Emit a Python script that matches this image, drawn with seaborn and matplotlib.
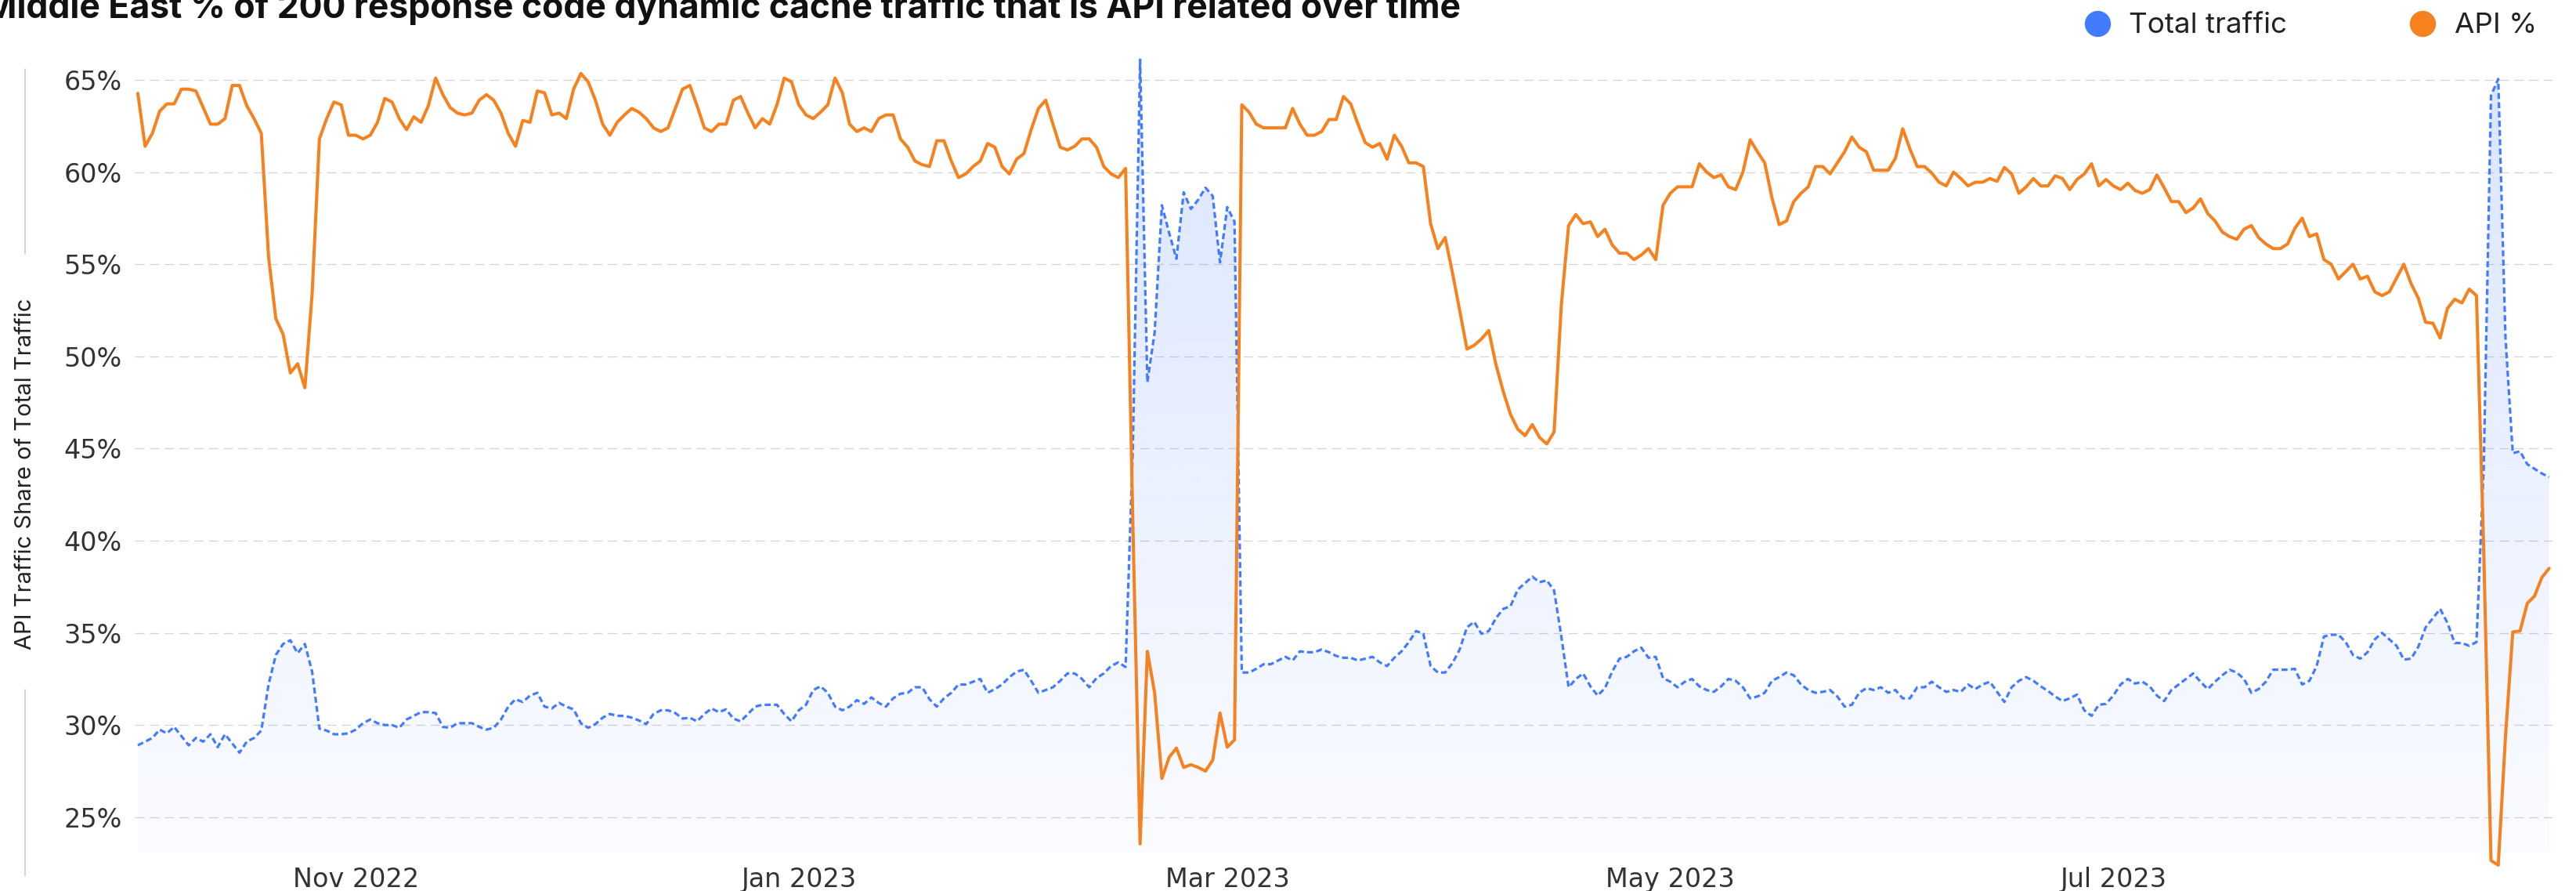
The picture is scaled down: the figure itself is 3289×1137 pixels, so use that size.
import numpy as np
import pandas as pd
import matplotlib
matplotlib.use('Agg')
import matplotlib.pyplot as plt
import matplotlib.dates as mdates
from matplotlib.lines import Line2D
from matplotlib.ticker import FuncFormatter
import seaborn as sns

# daily values, first day 2022-10-02
start_date = '2022-10-02'

api_pct = [
    64.27, 61.4, 62.1, 63.3, 63.7, 63.7, 64.5, 64.5, 64.4, 63.5,
    62.6, 62.6, 62.9, 64.7, 64.7, 63.6, 62.9, 62.1, 55.4, 52.05,
    51.2, 49.1, 49.6, 48.3, 53.4, 61.8, 62.9, 63.8, 63.65, 62.0,
    62.0, 61.8, 62.0, 62.7, 64.0, 63.8, 62.9, 62.3, 63.0, 62.7,
    63.6, 65.1, 64.2, 63.5, 63.2, 63.1, 63.2, 63.9, 64.2, 63.9,
    63.2, 62.1, 61.4, 62.8, 62.7, 64.4,
    64.3, 63.1, 63.2, 62.9, 64.5, 65.35, 64.9, 63.9, 62.6, 62.0,
    62.7, 63.1, 63.45, 63.25, 62.9, 62.4, 62.2, 62.4, 63.45, 64.5,
    64.7, 63.6, 62.4, 62.2, 62.6, 62.6, 63.9, 64.1, 63.2, 62.4,
    62.9, 62.6, 63.65, 65.1, 64.9, 63.65, 63.1, 62.9, 63.25, 63.65,
    65.1, 64.3, 62.6, 62.2, 62.4, 62.2, 62.9, 63.1, 63.1, 61.8,
    61.35, 60.6, 60.4, 60.3, 61.7, 61.7,
    60.6, 59.7, 59.9, 60.3, 60.6, 61.55, 61.35, 60.3, 59.9, 60.7,
    61.0, 62.3, 63.45, 63.9, 62.6, 61.35, 61.2, 61.4, 61.8, 61.8,
    61.35, 60.3, 59.9, 59.7, 60.2, 41.0, 23.55, 34.0, 31.75, 27.1,
    28.25, 28.75, 27.7, 27.85, 27.7, 27.5, 28.1, 30.65, 28.8, 29.2,
    63.65, 63.25, 62.6, 62.4, 62.4, 62.4, 62.4, 63.45, 62.6, 62.0,
    62.0, 62.2, 62.85, 62.85, 64.1, 63.7,
    62.6, 61.6, 61.35, 61.55, 60.7, 62.0, 61.4, 60.5, 60.5, 60.3,
    57.2, 55.85, 56.45, 54.55, 52.5, 50.4, 50.6, 50.95, 51.4, 49.55,
    48.1, 46.85, 46.05, 45.7, 46.3, 45.6, 45.25, 45.9, 52.8, 57.1,
    57.7, 57.2, 57.3, 56.5, 56.9, 56.05, 55.6, 55.6, 55.25, 55.5,
    55.85, 55.25, 58.2, 58.85, 59.2, 59.2, 59.2, 60.45, 60.0, 59.7,
    59.85, 59.2, 59.05, 60.0, 61.75, 61.1, 60.5,
    58.6, 57.15, 57.35, 58.4, 58.85, 59.2, 60.3, 60.3, 59.9, 60.5,
    61.1, 61.9, 61.35, 61.1, 60.1, 60.1, 60.1, 60.75, 62.35, 61.25,
    60.3, 60.3, 59.95, 59.45, 59.25, 60.0, 59.65, 59.25, 59.45, 59.45,
    59.65, 59.5, 60.25, 59.9, 58.85, 59.2, 59.65, 59.25, 59.25, 59.8,
    59.65, 59.05, 59.6, 59.9, 60.45, 59.25, 59.6, 59.25, 59.05, 59.4,
    59.0, 58.85, 59.05, 59.85, 59.15, 58.4,
    58.4, 57.8, 58.05, 58.55, 57.75, 57.35, 56.75, 56.5, 56.35, 56.9,
    57.1, 56.45, 56.1, 55.85, 55.85, 56.1, 56.95, 57.5, 56.5, 56.65,
    55.25, 55.0, 54.2, 54.6, 55.0, 54.2, 54.35, 53.5, 53.3, 53.5,
    54.25, 55.0, 53.95, 53.15, 51.85, 51.8, 51.0, 52.6, 53.1, 52.9,
    53.65, 53.3, 39.5, 22.65, 22.4, 29.4, 35.05, 35.1, 36.6, 37.0,
    38.0, 38.5,
]

total_pct = [
    28.9, 29.1, 29.3, 29.75, 29.55, 29.9, 29.4, 28.9, 29.3, 29.1,
    29.5, 28.8, 29.5, 29.0, 28.5, 29.1, 29.3, 29.7, 32.2, 33.8,
    34.4, 34.6, 33.9, 34.4, 32.9, 29.8, 29.7, 29.5, 29.5, 29.55,
    29.75, 30.1, 30.3, 30.1, 30.0, 30.0, 29.85, 30.3, 30.5, 30.7,
    30.7, 30.65, 29.9, 29.85, 30.1, 30.1, 30.1, 29.9, 29.75, 29.85,
    30.3, 31.0, 31.4, 31.25, 31.6, 31.75,
    31.0, 30.9, 31.2, 31.0, 30.85, 30.1, 29.85, 30.05, 30.4, 30.6,
    30.5, 30.5, 30.4, 30.25, 30.05, 30.6, 30.8, 30.8, 30.65, 30.35,
    30.4, 30.2, 30.6, 30.9, 30.7, 30.85, 30.35, 30.2, 30.6, 31.0,
    31.1, 31.1, 31.1, 30.6, 30.2, 30.8, 31.1, 31.9, 32.1, 31.75,
    31.0, 30.8, 31.0, 31.35, 31.15, 31.5, 31.2, 31.0, 31.45, 31.7,
    31.75, 32.05, 32.05, 31.4, 31.0, 31.45,
    31.75, 32.2, 32.2, 32.35, 32.5, 31.75, 31.95, 32.2, 32.6, 32.9,
    33.0, 32.4, 31.75, 31.9, 32.05, 32.4, 32.8, 32.8, 32.5, 32.05,
    32.55, 32.8, 33.2, 33.4, 33.15, 45.0, 66.1, 48.6, 51.3, 58.2,
    56.7, 55.3, 58.9, 58.0, 58.5, 59.15, 58.7, 55.1, 58.1, 57.3,
    32.85, 32.85, 33.05, 33.3, 33.3, 33.5, 33.7, 33.5, 34.0, 33.95,
    33.95, 34.1, 33.95, 33.75, 33.65, 33.65,
    33.5, 33.6, 33.7, 33.4, 33.2, 33.65, 34.0, 34.5, 35.1, 34.95,
    33.2, 32.85, 32.85, 33.35, 34.1, 35.3, 35.6, 34.95, 35.1, 35.8,
    36.3, 36.45, 37.35, 37.7, 38.05, 37.75, 37.85, 37.3, 34.8, 32.05,
    32.5, 32.8, 32.1, 31.6, 32.0, 32.9, 33.6, 33.7, 34.0, 34.2,
    33.65, 33.7, 32.55, 32.35, 32.05, 32.35, 32.5, 32.1, 31.9, 31.8,
    32.1, 32.5, 32.4, 32.05, 31.45, 31.55, 31.75,
    32.4, 32.6, 32.85, 32.7, 32.2, 31.9, 31.75, 31.8, 31.9, 31.55,
    31.0, 31.1, 31.75, 32.0, 31.9, 32.05, 31.75, 31.9, 31.45, 31.45,
    32.05, 32.05, 32.35, 32.05, 31.8, 31.9, 31.8, 32.2, 31.95, 32.2,
    32.35, 31.8, 31.25, 32.05, 32.4, 32.6, 32.4, 32.1, 31.85, 31.55,
    31.3, 31.45, 31.65, 30.8, 30.5, 31.1, 31.15, 31.6, 32.2, 32.5,
    32.25, 32.35, 32.1, 31.6, 31.3, 31.9,
    32.2, 32.5, 32.8, 32.35, 31.95, 32.35, 32.7, 33.0, 32.85, 32.5,
    31.75, 31.95, 32.35, 33.0, 33.0, 33.0, 33.05, 32.2, 32.4, 33.2,
    34.8, 34.9, 34.9, 34.5, 33.8, 33.6, 33.95, 34.65, 35.0, 34.65,
    34.3, 33.55, 33.6, 34.25, 35.3, 35.8, 36.3, 35.55, 34.45, 34.45,
    34.3, 34.5, 44.0, 64.15, 65.05, 51.0, 44.75, 44.85, 44.15, 43.9,
    43.65, 43.45,
]

series_names = ['Total traffic', 'API %']
y_ticks = [25, 30, 35, 40, 45, 50, 55, 60, 65]
title = 'Middle East % of 200 response code dynamic cache traffic that is API related over time'
y_label = 'API Traffic Share of Total Traffic'

blue = '#437bff'
orange = '#f5821f'
y_min, y_max = 23.1, 66.5

df = pd.DataFrame({
    'date': pd.date_range(start_date, periods=len(api_pct), freq='D'),
    'api': api_pct,
    'total': total_pct,
})

sns.set_theme(style='white')
plt.rcParams['font.family'] = ['Inter', 'DejaVu Sans']

W, H = 3289, 1137
fig = plt.figure(figsize=(W / 100, H / 100), dpi=100)
ax = fig.add_axes([172 / W, 0.04353, (3259 - 172) / W, 0.94134 - 0.04353])

# gradient fill under the total traffic line
x0 = mdates.date2num(df['date'].iloc[0]) - 0.43
x1 = mdates.date2num(df['date'].iloc[-1]) + 0.47
poly = ax.fill_between(df['date'], y_min, df['total'], color='none', lw=0)
rgba = np.zeros((256, 1, 4))
rgba[..., :3] = matplotlib.colors.to_rgb(blue)
rgba[..., 3] = np.linspace(0.2, 0.025, 256)[:, None]
im = ax.imshow(rgba, extent=[x0, x1, y_min, y_max], aspect='auto',
               origin='upper', zorder=1, interpolation='bilinear')
im.set_clip_path(poly.get_paths()[0], ax.transData)

sns.lineplot(data=df, x='date', y='total', color=blue, lw=2.3, ax=ax, zorder=3)
ax.lines[-1].set_linestyle((0, (2.4, 1.3)))
sns.lineplot(data=df, x='date', y='api', color=orange, lw=2.9, ax=ax, zorder=4)
for ln in ax.lines:
    ln.set_clip_on(False)
    ln.set_solid_joinstyle('round')

ax.set_xlim(x0, x1)
ax.set_ylim(y_min, y_max)
ax.set_yticks(y_ticks)
ax.yaxis.set_major_formatter(FuncFormatter(lambda v, p: f'{v:.0f}%'))
ax.xaxis.set_major_locator(mdates.MonthLocator(bymonth=[1, 3, 5, 7, 9, 11]))
ax.xaxis.set_major_formatter(mdates.DateFormatter('%b %Y'))
ax.yaxis.grid(True, color='#d4d4d4', lw=0.95, linestyle=(0, (9, 5.3)))
ax.xaxis.grid(False)
ax.set_axisbelow(True)
sns.despine(ax=ax, left=True, bottom=True)
ax.tick_params(axis='both', length=0, labelsize=24, labelcolor='#333333',
               labelfontfamily='DejaVu Sans')
ax.tick_params(axis='y', pad=11.5)
ax.tick_params(axis='x', pad=13)
ax.set_xlabel('')
ax.set_ylabel('')

# y axis title sitting on a thin vertical rule
fig.text(33 / W, 1 - 605 / H, y_label, rotation=90, ha='center', va='center',
         fontsize=21, color='#222222')
for ya, yb in [(88, 324), (880, 1118)]:
    fig.add_artist(Line2D([32 / W, 32 / W], [1 - ya / H, 1 - yb / H],
                          color='#c8c8c8', lw=1.1))

# title runs off the left edge, as in the source
fig.text(-20 / W, 1 - 23 / H, title, ha='left', va='baseline',
         fontsize=32, fontweight='bold', color='#111111')

handles = [Line2D([], [], marker='o', linestyle='none', markersize=23, color=c)
           for c in [blue, orange]]
fig.legend(handles, series_names, loc='center left',
           bbox_to_anchor=(2659.6 / W, 1 - 33 / H), ncol=2, frameon=False,
           borderpad=0, borderaxespad=0, handlelength=1.0, handletextpad=0.6,
           columnspacing=4.2, fontsize=26.5, labelcolor='#222222')

fig.savefig('out.png', dpi=100)
